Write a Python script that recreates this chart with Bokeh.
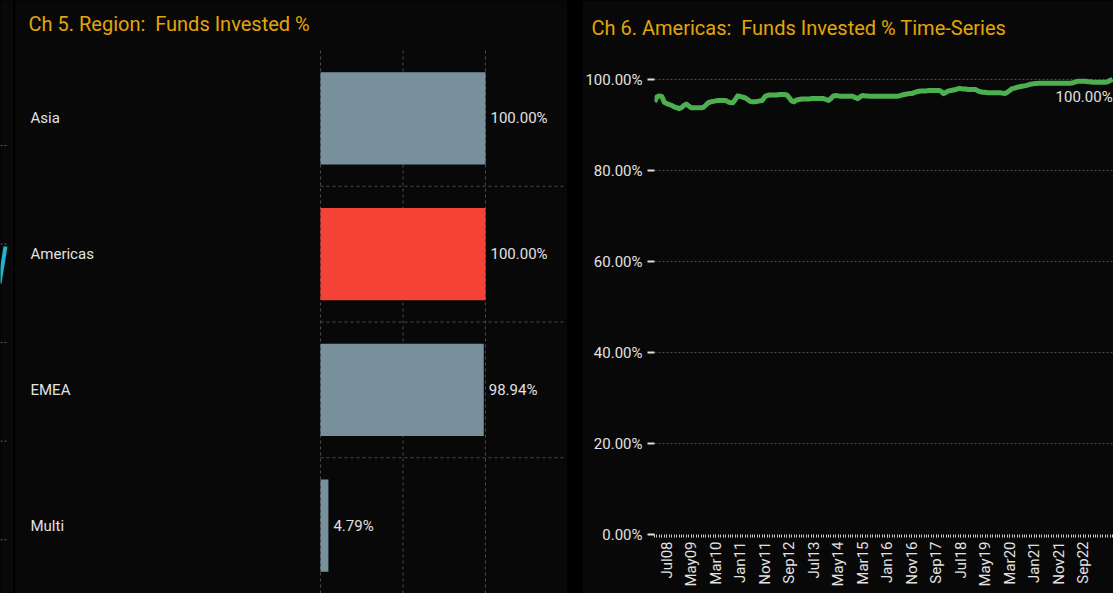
import math
import pandas as pd
from bokeh.plotting import figure
from bokeh.models import (ColumnDataSource, Range1d, FixedTicker, PrintfTickFormatter,
                          Label, Spacer)
from bokeh.core.properties import value
from bokeh.embed import file_html
from bokeh.resources import INLINE

# ---------------- data ----------------
regions = ["Asia", "Americas", "EMEA", "Multi"]
invested_pct = [100.00, 100.00, 98.94, 4.79]
highlight_region = "Americas"

x_grid_ticks = [0, 50, 100]

ts_start = "2008-02-01"
americas_ts = [
    95.1, 96.2, 96.4, 96.3, 95.0, 94.7, 94.5, 94.3, 94.0, 93.8, 93.6, 93.8,
    94.3, 94.6, 94.2, 93.8, 93.8, 93.8, 93.8, 93.8, 93.9, 94.4, 94.9, 95.1,
    95.2, 95.3, 95.4, 95.4, 95.4, 95.4, 95.1, 94.9, 94.9, 95.6, 96.4, 96.3,
    96.1, 96.0, 95.6, 95.2, 95.1, 95.1, 95.2, 95.3, 95.4, 96.2, 96.5, 96.6,
    96.6, 96.6, 96.6, 96.7, 96.7, 96.7, 96.6, 96.0, 95.3, 95.1, 95.5, 95.6,
    95.7, 95.7, 95.7, 95.7, 95.8, 95.8, 95.8, 95.8, 95.8, 95.8, 95.6, 95.4,
    95.8, 96.4, 96.5, 96.4, 96.3, 96.3, 96.3, 96.3, 96.3, 96.3, 96.0, 95.8,
    96.2, 96.5, 96.4, 96.4, 96.3, 96.3, 96.3, 96.3, 96.3, 96.3, 96.3, 96.3,
    96.3, 96.3, 96.3, 96.3, 96.4, 96.6, 96.7, 96.8, 96.9, 96.9, 97.1, 97.3,
    97.4, 97.5, 97.5, 97.5, 97.6, 97.6, 97.6, 97.6, 97.6, 97.4, 96.9, 97.2,
    97.5, 97.6, 97.7, 97.8, 98.0, 98.0, 97.9, 97.9, 97.8, 97.8, 97.8, 97.8,
    97.5, 97.3, 97.2, 97.2, 97.1, 97.1, 97.1, 97.1, 97.1, 97.1, 97.0, 96.9,
    97.2, 97.6, 98.0, 98.1, 98.3, 98.4, 98.5, 98.6, 98.7, 98.9, 99.0, 99.1,
    99.1, 99.2, 99.2, 99.2, 99.2, 99.2, 99.2, 99.2, 99.2, 99.2, 99.2, 99.2,
    99.2, 99.2, 99.2, 99.3, 99.5, 99.6, 99.6, 99.6, 99.6, 99.5, 99.5, 99.4,
    99.4, 99.4, 99.4, 99.4, 99.4, 99.5, 99.8, 100.0,
]
x_tick_labels = ["Jul08", "May09", "Mar10", "Jan11", "Nov11", "Sep12", "Jul13",
                 "May14", "Mar15", "Jan16", "Nov16", "Sep17", "Jul18", "May19",
                 "Mar20", "Jan21", "Nov21", "Sep22"]
y_ticks = [0, 20, 40, 60, 80, 100]

title_ch5 = "Ch 5. Region:\u00a0 Funds Invested %"
title_ch6 = "Ch 6. Americas:\u00a0 Funds Invested % Time-Series"

# fragment of the neighbouring chart at the far left
strip_grid_vals = [20, 40, 60, 80, 100]
strip_line_x = [-1, 5]
strip_line_y = [72, 79.5]

# ---------------- styles ----------------
PAGE_BG = "#000000"
PANEL_BG = "#080808"
GOLD = "#E3A508"
TXT = "#E2E2E2"
GRID = "#4a4a4a"
FONT = "Roboto"
GREY_BAR = "#78909C"
RED_BAR = "#F44336"
GREEN = "#4CAF50"
H = 593


def bare_fig(w, xr, yr):
    f = figure(width=w, height=H, x_range=xr, y_range=yr,
               output_backend="svg", toolbar_location=None,
               x_axis_location=None, y_axis_location=None,
               min_border_left=0, min_border_right=0, min_border_top=0, min_border_bottom=0,
               background_fill_color=PANEL_BG, border_fill_color=PANEL_BG,
               outline_line_color=None)
    f.grid.visible = False
    return f


# ---------------- strip ----------------
ps = bare_fig(13, Range1d(0, 13), Range1d(9.1, 129.4))
ps.segment(x0=[0] * len(strip_grid_vals), x1=[6] * len(strip_grid_vals),
           y0=strip_grid_vals, y1=strip_grid_vals, line_color="#666666",
           line_dash="2 2", line_width=1)
ps.line(strip_line_x, strip_line_y, line_color="#1FB5CC", line_width=4)

# ---------------- Ch 5: bar chart ----------------
W1 = 552
px_per_unit = 1.65
zero_px = 305
x0 = -zero_px / px_per_unit
x1 = (W1 - zero_px) / px_per_unit
n = len(regions)
cat_px = 135.75
top_px = 50
y_top = n + top_px / cat_px

p1 = bare_fig(W1, Range1d(x0, x1), Range1d(0, y_top))

ypos = [n - 0.5 - i for i in range(n)]
colors = [RED_BAR if r == highlight_region else GREY_BAR for r in regions]
labels = [f"{v:.2f}%" for v in invested_pct]
src1 = ColumnDataSource(dict(y=ypos, v=invested_pct, c=colors, lab=labels, reg=regions,
                             xs=[x0] * n))

bounds_y = list(range(1, n))
p1.segment(x0=x_grid_ticks, x1=x_grid_ticks, y0=[0] * len(x_grid_ticks),
           y1=[n] * len(x_grid_ticks), line_color=GRID, line_dash="3 3", line_width=1)
p1.segment(x0=[0] * len(bounds_y), x1=[147.3] * len(bounds_y), y0=bounds_y, y1=bounds_y,
           line_color=GRID, line_dash="3 3", line_width=1)

p1.hbar(y="y", left=0, right="v", height=0.678, fill_color="c", line_color=None, source=src1)
p1.text(x="v", y="y", text="lab", x_offset=5, text_baseline="middle", text_align="left",
        text_color=TXT, text_font_size="15px", text_font=value(FONT), source=src1)
p1.text(x="xs", y="y", text="reg", x_offset=15, text_baseline="middle", text_align="left",
        text_color=TXT, text_font_size="15px", text_font=value(FONT), source=src1)
p1.add_layout(Label(x=13, y=H - 23, x_units="screen", y_units="screen",
                    text=title_ch5, text_color=GOLD,
                    text_font_size="20px", text_font=FONT, text_baseline="middle"))

# ---------------- Ch 6: time series ----------------
W2 = 531
months = pd.date_range(ts_start, periods=len(americas_ts), freq="MS").strftime("%b%y").tolist()
idx = list(range(len(americas_ts)))
tick_idx = [months.index(lab) for lab in x_tick_labels]

left_b, bottom_b, top_b = 72, 59, 50
px_per_month = 2.45
frame_w = W2 - left_b
frame_h = H - top_b - bottom_b
x_end = frame_w / px_per_month
y_end = frame_h / 4.55

p2 = figure(width=W2, height=H, x_range=Range1d(0, x_end), y_range=Range1d(0, y_end),
            output_backend="svg", toolbar_location=None,
            min_border_left=left_b, min_border_right=0, min_border_top=top_b,
            min_border_bottom=bottom_b,
            background_fill_color=PANEL_BG, border_fill_color=PANEL_BG,
            outline_line_color=None)
p2.title.text = title_ch6
p2.title.align = "left"
p2.title.offset = 9 - left_b
p2.title.standoff = 20
p2.title.vertical_align = "middle"
p2.title.text_color = GOLD
p2.title.text_font = FONT
p2.title.text_font_size = "20px"
p2.title.text_font_style = "normal"

p2.xgrid.visible = False
p2.ygrid.ticker = FixedTicker(ticks=y_ticks)
p2.ygrid.grid_line_color = GRID
p2.ygrid.grid_line_dash = "2 2"

p2.yaxis.ticker = FixedTicker(ticks=y_ticks)
p2.yaxis.formatter = PrintfTickFormatter(format="%.2f%%")
p2.yaxis.axis_line_color = None
p2.yaxis.major_tick_line_color = "#dddddd"
p2.yaxis.major_tick_line_width = 2
p2.yaxis.major_tick_out = 7
p2.yaxis.major_tick_in = 0
p2.yaxis.minor_tick_line_color = None
p2.yaxis.major_label_standoff = 5
p2.yaxis.major_label_text_color = TXT
p2.yaxis.major_label_text_font_size = "15px"
p2.yaxis.major_label_text_font = FONT

p2.xaxis.ticker = FixedTicker(ticks=tick_idx, minor_ticks=idx)
p2.xaxis.major_label_overrides = {i: months[i] for i in tick_idx}
p2.xaxis.major_label_orientation = math.pi / 2
p2.xaxis.axis_line_color = None
p2.xaxis.major_tick_line_color = "#cccccc"
p2.xaxis.minor_tick_line_color = "#cccccc"
p2.xaxis.major_tick_out = 3
p2.xaxis.major_tick_in = 0
p2.xaxis.minor_tick_out = 3
p2.xaxis.minor_tick_in = 0
p2.xaxis.major_label_standoff = 4
p2.xaxis.major_label_text_color = TXT
p2.xaxis.major_label_text_font_size = "15px"
p2.xaxis.major_label_text_font = FONT

src2 = ColumnDataSource(dict(x=idx, y=americas_ts))
p2.line("x", "y", source=src2, line_color=GREEN, line_width=5, line_join="round")
last = len(americas_ts) - 1
p2.text(x=[idx[last]], y=[americas_ts[last]], text=[f"{americas_ts[last]:.2f}%"],
        text_align="right", text_baseline="middle", y_offset=17,
        text_color=TXT, text_font_size="15px", text_font=value(FONT))

# independent roots (so frames are not aligned with each other), laid out side by side
roots = [ps, Spacer(width=2, height=H), p1, Spacer(width=15, height=H), p2]

html = file_html(roots, INLINE)
css = ("<style>html,body{margin:0 !important;padding:0;background:%s;overflow:hidden;}"
       "body{display:flex;flex-direction:row;align-items:flex-start;}</style>" % PAGE_BG)
html = html.replace("</head>", css + "</head>", 1)
open("out.html", "w").write(html)
